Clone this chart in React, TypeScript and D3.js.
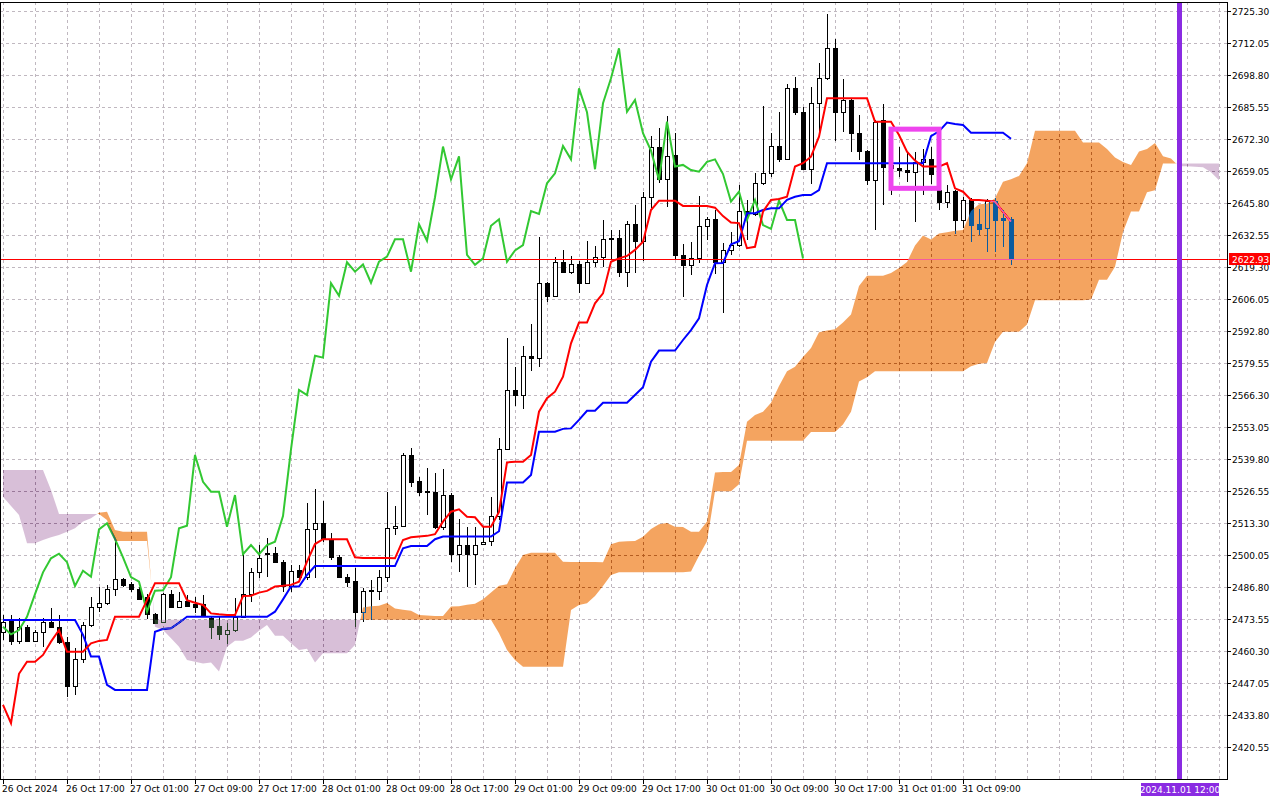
import * as d3 from 'd3'

// H1 bars, 8 px apart
const opens = [2468.3,2473.0,2464.7,2470.2,2464.7,2468.2,2472.3,2470.5,2464.3,2446.1,
2457.1,2471.2,2478.5,2480.2,2486.0,2490.1,2488.0,2486.0,2482.7,2475.6,
2472.6,2483.9,2478.8,2481.3,2479.9,2479.9,2473.9,2470.8,2467.3,2469.1,
2474.6,2483.9,2493.0,2501.1,2500.9,2497.2,2487.4,2494.0,2491.2,2510.8,
2513.3,2506.8,2499.2,2491.2,2489.4,2476.7,2485.4,2485.4,2491.0,2511.2,
2512.3,2541.6,2530.8,2526.6,2526.2,2511.9,2525.0,2500.5,2504.3,2500.5,
2504.6,2505.9,2516.3,2543.9,2568.5,2566.4,2582.7,2581.9,2612.7,2607.5,
2621.4,2617.5,2620.5,2612.9,2621.6,2623.7,2631.3,2631.3,2617.5,2637.1,
2630.3,2648.3,2669.3,2655.7,2665.8,2624.4,2620.3,2623.0,2636.5,2639.2,
2621.6,2626.3,2628.5,2642.6,2641.4,2654.1,2658.2,2669.5,2664.0,2693.4,
2683.5,2659.9,2687.2,2697.6,2710.0,2683.7,2688.6,2674.8,2667.6,2655.5,
2680.3,2660.4,2660.3,2659.5,2658.9,2663.0,2664.0,2651.3,2646.5,2650.9,
2638.9,2647.2,2637.2,2635.5,2646.9,2639.6,2639.2]

const highs = [2475.3,2475.3,2474.1,2471.2,2469.1,2474.1,2478.2,2475.3,2466.3,2461.5,
2472.6,2482.9,2487.1,2487.8,2506.4,2490.8,2489.1,2487.1,2484.0,2476.0,
2484.3,2485.7,2485.0,2483.6,2482.8,2483.6,2474.6,2474.6,2471.9,2482.2,
2500.6,2494.7,2504.3,2507.1,2503.4,2498.1,2496.0,2496.0,2521.8,2527.4,
2522.7,2509.2,2500.2,2492.3,2494.7,2486.4,2489.8,2494.0,2526.4,2520.5,
2542.5,2544.4,2532.6,2536.1,2534.0,2535.7,2525.7,2514.9,2511.9,2511.6,
2511.9,2524.3,2548.6,2589.9,2577.9,2586.7,2595.7,2631.7,2613.3,2623.7,
2626.5,2624.0,2621.9,2630.2,2628.1,2638.9,2634.7,2634.7,2638.5,2645.1,
2650.6,2673.5,2677.0,2682.0,2674.8,2629.0,2629.9,2648.8,2640.0,2643.0,
2629.2,2633.9,2653.4,2647.2,2658.2,2686.1,2674.8,2683.7,2695.2,2698.0,
2685.8,2693.8,2704.0,2724.2,2713.7,2697.1,2688.9,2682.4,2667.9,2680.3,
2686.9,2675.3,2669.1,2666.5,2667.2,2668.2,2669.2,2652.6,2653.4,2651.3,
2648.3,2648.1,2643.4,2647.6,2647.9,2643.0,2640.3]

const lows = [2465.0,2462.9,2463.3,2464.2,2464.3,2462.2,2469.9,2463.3,2441.5,2442.2,
2455.3,2470.5,2476.7,2479.5,2483.2,2487.1,2485.0,2481.5,2473.6,2471.9,
2471.9,2478.5,2478.1,2478.5,2476.2,2474.6,2465.3,2465.0,2463.2,2468.4,
2473.9,2480.8,2490.5,2491.2,2496.7,2485.0,2485.0,2489.8,2489.8,2490.5,
2505.7,2498.1,2490.5,2487.1,2470.5,2472.6,2473.3,2481.5,2489.1,2508.5,
2511.9,2528.5,2524.6,2516.7,2510.8,2510.5,2497.4,2493.3,2487.1,2487.8,
2504.3,2503.9,2514.7,2543.6,2561.9,2560.5,2576.5,2578.1,2605.1,2607.1,
2616.8,2616.5,2608.5,2612.4,2619.6,2619.6,2622.3,2615.4,2611.1,2617.1,
2622.0,2643.9,2654.1,2644.1,2622.6,2606.9,2616.1,2621.0,2630.6,2616.5,
2600.3,2624.4,2627.8,2630.6,2640.4,2653.4,2656.8,2663.0,2663.7,2682.4,
2659.6,2653.8,2673.4,2696.9,2671.7,2675.4,2667.2,2663.7,2653.4,2634.7,
2645.1,2649.2,2656.7,2654.8,2638.2,2649.2,2653.8,2643.0,2643.7,2633.1,
2635.5,2629.9,2632.7,2625.8,2625.8,2627.8,2620.3]

const closes = [2472.4,2464.7,2470.2,2464.7,2468.2,2472.3,2470.5,2464.0,2446.1,2457.1,
2471.2,2478.5,2480.2,2486.0,2490.1,2487.8,2486.0,2482.0,2475.6,2472.1,
2483.9,2478.8,2481.3,2479.2,2478.8,2474.9,2470.5,2467.3,2469.1,2474.6,
2484.0,2493.0,2498.8,2500.7,2497.2,2487.4,2493.7,2491.2,2510.8,2513.3,
2506.8,2499.2,2491.0,2489.1,2476.7,2485.4,2485.6,2491.0,2511.2,2512.3,
2541.6,2530.5,2526.4,2526.4,2511.9,2525.0,2500.5,2504.3,2500.5,2504.3,
2505.7,2516.3,2543.9,2568.5,2566.4,2582.7,2581.9,2612.7,2607.5,2621.4,
2617.5,2620.5,2612.9,2621.6,2623.7,2630.9,2630.9,2617.5,2637.1,2630.3,
2648.3,2669.3,2655.7,2665.2,2624.4,2620.3,2623.0,2636.5,2639.2,2621.6,
2626.3,2628.5,2642.6,2641.4,2654.1,2658.2,2669.5,2664.0,2693.4,2683.5,
2659.9,2687.2,2697.6,2710.0,2683.7,2688.6,2674.8,2667.6,2655.5,2679.6,
2661.0,2661.7,2659.6,2658.9,2663.0,2664.0,2657.9,2646.5,2650.6,2638.9,
2647.2,2636.8,2635.2,2646.9,2638.9,2638.9,2622.93]

// Tenkan-sen (red), one value per bar
const tenkan = [2438.1,2430.5,2451.0,2456.0,2456.0,2458.8,2464.3,2469.1,2460.1,2460.1,
2460.1,2463.6,2464.6,2465.0,2474.6,2474.6,2474.6,2474.6,2481.5,2488.5,
2488.5,2488.5,2488.5,2481.5,2480.4,2479.5,2476.0,2475.6,2475.3,2475.3,
2483.2,2483.3,2484.6,2485.3,2487.1,2487.4,2487.8,2489.1,2497.4,2504.7,
2506.7,2506.7,2506.7,2506.7,2499.2,2498.9,2498.9,2498.9,2498.9,2498.8,
2506.4,2507.5,2507.8,2508.1,2508.8,2514.0,2518.1,2519.1,2516.0,2515.8,
2511.9,2511.9,2518.0,2538.5,2538.8,2538.8,2541.6,2559.5,2565.1,2567.8,
2574.0,2587.8,2596.4,2596.4,2604.4,2608.5,2621.6,2623.0,2624.0,2626.5,
2629.9,2643.0,2646.9,2646.9,2646.9,2644.7,2644.7,2644.7,2644.7,2644.0,
2640.5,2637.8,2637.6,2627.2,2627.8,2642.3,2647.2,2647.6,2648.5,2661.0,
2662.4,2665.1,2673.4,2689.3,2689.3,2689.3,2689.3,2689.3,2689.3,2679.6,
2679.6,2679.6,2674.1,2667.2,2663.5,2661.0,2661.0,2661.0,2662.4,2652.0,
2650.6,2647.2,2647.2,2646.9,2646.5,2642.3,2638.2]

// Kijun-sen (blue), one value per bar
const kijun = [2473.3,2473.3,2473.3,2473.3,2473.3,2473.3,2473.3,2473.3,2473.3,2473.3,
2467.1,2458.1,2458.1,2446.4,2444.3,2444.3,2444.3,2444.3,2444.3,2468.4,
2469.5,2469.8,2472.1,2474.6,2474.6,2474.6,2474.6,2474.6,2474.6,2474.6,
2474.6,2474.6,2474.6,2474.6,2476.7,2481.8,2487.1,2487.1,2491.9,2495.6,
2495.6,2495.6,2495.6,2495.6,2495.6,2495.6,2495.6,2495.6,2495.6,2495.6,
2502.9,2503.9,2503.9,2503.9,2506.7,2507.8,2507.8,2507.8,2507.8,2507.8,
2507.8,2507.8,2510.0,2530.2,2530.2,2530.2,2533.3,2551.2,2551.2,2551.2,
2552.4,2552.6,2556.1,2559.9,2559.9,2563.2,2563.2,2563.2,2563.2,2566.4,
2569.6,2580.2,2584.8,2584.8,2584.8,2589.2,2593.3,2598.2,2612.0,2621.0,
2621.1,2628.8,2630.1,2641.7,2641.7,2643.0,2643.7,2643.7,2647.2,2648.5,
2649.2,2649.2,2651.3,2662.4,2662.4,2662.4,2662.4,2662.4,2662.4,2662.4,
2662.4,2662.4,2662.4,2662.4,2662.4,2662.4,2673.6,2675.6,2679.2,2678.6,
2678.2,2675.0,2675.0,2675.0,2675.0,2675.0,2672.5]

// Senkou span A for the first 26 bars (its source lies left of the chart)
const spanAEarly = [2524.3,2520.5,2516.7,2505.0,2505.0,2506.4,2507.5,2508.5,2509.8,2511.2,
2514.0,2515.4,2517.7,2518.1,2510.5,2509.8,2509.8,2509.8,2509.8,2470.5,
2469.1,2465.7,2462.2,2456.7,2456.0,2455.3]

// Senkou span B as flat runs: value holds from bar spanBFrom[k] up to the next run
const spanBFrom = [0,6,7,13,14,19,62,63,64,65,71,72,73,74,75,76,77,86,87,88,89,92,93,101,105,
106,107,108,109,121,122,123,124,125,128,129,136,137,139,140,141,143,144,145]
const spanBValue = [2535.4,2527.1,2517.2,2514.7,2506.0,2473.4,2467.8,2460.8,2456.7,2453.9,
2477.4,2479.5,2480.2,2483.2,2487.3,2491.9,2493.0,2493.3,2499.9,2505.9,2526.6,2529.5,2547.5,
2551.1,2554.2,2559.5,2572.0,2573.8,2576.3,2578.3,2579.4,2579.7,2588.4,2592.6,2595.6,2605.7,
2606.0,2614.1,2619.5,2633.9,2642.4,2650.4,2651.2,2662.3]

const priceTicks = ['2725.30','2712.05','2698.80','2685.55','2672.30','2659.05','2645.80',
'2632.55','2619.30','2606.05','2592.80','2579.55','2566.30','2553.05','2539.80','2526.55',
'2513.30','2500.05','2486.80','2473.55','2460.30','2447.05','2433.80','2420.55']

const timeLabels = ['26 Oct 2024','26 Oct 17:00','27 Oct 01:00','27 Oct 09:00','27 Oct 17:00',
'28 Oct 01:00','28 Oct 09:00','28 Oct 17:00','29 Oct 01:00','29 Oct 09:00','29 Oct 17:00',
'30 Oct 01:00','30 Oct 09:00','30 Oct 17:00','31 Oct 01:00','31 Oct 09:00']

const lastPrice = 2622.93
const markerBar = 147
const markerLabel = '2024.11.01 12:00'
const boxBars = [111, 117]
const boxPrices = [2676.5, 2652.0]

const SHIFT = 26
const RIGHT = 1227
const BOTTOM = 779
const TOP = 2

type Pt = [number, number, number]

function cloudRuns(a: number[], b: number[]) {
  const runs: { up: boolean; pts: Pt[] }[] = []
  let cur: { up: boolean; pts: Pt[] } | null = null
  for (let k = 0; k < a.length; k++) {
    const up = a[k] >= b[k]
    if (!cur) {
      cur = { up, pts: [] }
      runs.push(cur)
    } else if (up !== cur.up) {
      const d0 = a[k - 1] - b[k - 1]
      const d1 = a[k] - b[k]
      const t = d0 / (d0 - d1)
      const v = a[k - 1] + t * (a[k] - a[k - 1])
      cur.pts.push([k - 1 + t, v, v])
      cur = { up, pts: [[k - 1 + t, v, v]] }
      runs.push(cur)
    }
    cur.pts.push([k, a[k], b[k]])
  }
  return runs
}

export default function App() {
  const x = d3.scaleLinear([0, 1], [3, 11])
  const y = d3.scaleLinear([2420.55, 2725.3], [747.3, 11.3])

  const spanA = [...spanAEarly, ...tenkan.map((t, i) => (t + kijun[i]) / 2)]
  const spanB = spanA.map((_, bar) => {
    let k = 0
    while (k + 1 < spanBFrom.length && spanBFrom[k + 1] <= bar) k++
    return spanBValue[k]
  })
  const chikou = closes.slice(SHIFT)

  const line = d3
    .line<number>()
    .x((_, i) => x(i))
    .y((d) => y(d))
  const area = d3
    .area<Pt>()
    .x((p) => x(p[0]))
    .y0((p) => y(p[2]))
    .y1((p) => y(p[1]))

  const runs = cloudRuns(spanA, spanB)
  const gridBars = d3.range(0, spanA.length, 4)
  const yLast = Math.round(y(lastPrice)) + 0.5

  return (
    <svg
      width={1280}
      height={800}
      style={{ position: 'absolute', left: 0, top: 0 }}
      fontFamily="DejaVu Sans"
      fontSize={9}
    >
      <defs>
        <clipPath id="plot">
          <rect x={0} y={TOP} width={RIGHT} height={BOTTOM - TOP} />
        </clipPath>
      </defs>
      <rect width={1280} height={800} fill="#fff" />

      <g clipPath="url(#plot)">
        {/* backdrop inside the clipped group so the kumo blend sees white */}
        <rect width={1280} height={800} fill="#fff" />
        <g stroke="#c0b8c0" strokeDasharray="3,3" shapeRendering="crispEdges">
          {priceTicks.map((p) => (
            <line key={p} x1={0} x2={RIGHT} y1={Math.round(y(+p)) + 0.5} y2={Math.round(y(+p)) + 0.5} />
          ))}
          {gridBars.map((b) => (
            <line key={b} x1={x(b) + 0.5} x2={x(b) + 0.5} y1={TOP} y2={BOTTOM} />
          ))}
        </g>

        <g shapeRendering="crispEdges">
          {opens.map((o, i) => {
            const c = closes[i]
            const cx = Math.round(x(i))
            const top = Math.round(y(Math.max(o, c))) + 0.5
            const bot = Math.round(y(Math.min(o, c))) + 0.5
            return (
              <g key={i}>
                <line x1={cx + 0.5} x2={cx + 0.5} y1={y(highs[i])} y2={y(lows[i])} stroke="#000" />
                <rect
                  x={cx - 1.5}
                  y={top}
                  width={4}
                  height={Math.max(bot - top, 1)}
                  fill={c >= o ? '#fff' : '#000'}
                  stroke="#000"
                />
              </g>
            )
          })}
        </g>

        <line x1={0} x2={RIGHT} y1={yLast} y2={yLast} stroke="#ff0000" shapeRendering="crispEdges" />
        <path d={line(chikou) || undefined} fill="none" stroke="#32c832" strokeWidth={2} />
        <path d={line(kijun) || undefined} fill="none" stroke="#0000ff" strokeWidth={2} />
        <path d={line(tenkan) || undefined} fill="none" stroke="#ff0000" strokeWidth={2} />

        {/* kumo drawn inverted, like the terminal's XOR histogram */}
        {runs.map((r, k) => (
          <path
            key={k}
            d={area(r.pts) || undefined}
            fill={r.up ? '#0b5b9f' : '#274027'}
            style={{ mixBlendMode: 'difference' }}
          />
        ))}

        <rect
          x={x(boxBars[0])}
          y={y(boxPrices[0])}
          width={x(boxBars[1]) - x(boxBars[0])}
          height={y(boxPrices[1]) - y(boxPrices[0])}
          fill="none"
          stroke="#ee44ee"
          strokeWidth={5}
        />
        <line
          x1={x(markerBar) + 0.5}
          x2={x(markerBar) + 0.5}
          y1={TOP}
          y2={BOTTOM}
          stroke="#8a2be2"
          strokeWidth={5}
        />
      </g>

      <g stroke="#000" shapeRendering="crispEdges">
        <line x1={0.5} x2={0.5} y1={TOP} y2={BOTTOM} />
        <line x1={0} x2={RIGHT + 1} y1={TOP + 0.5} y2={TOP + 0.5} />
        <line x1={RIGHT + 0.5} x2={RIGHT + 0.5} y1={TOP} y2={BOTTOM + 1} />
        <line x1={0} x2={RIGHT + 1} y1={BOTTOM + 0.5} y2={BOTTOM + 0.5} />
        {priceTicks.map((p) => (
          <line key={p} x1={RIGHT} x2={RIGHT + 4} y1={Math.round(y(+p)) + 0.5} y2={Math.round(y(+p)) + 0.5} />
        ))}
        {timeLabels.map((t, k) => (
          <line key={t} x1={x(k * 8) + 0.5} x2={x(k * 8) + 0.5} y1={BOTTOM} y2={BOTTOM + 5} />
        ))}
      </g>

      {priceTicks.map((p) => (
        <text key={p} x={RIGHT + 5} y={y(+p) + 3.5} fill="#000">
          {p}
        </text>
      ))}
      <rect x={RIGHT + 2} y={yLast - 6.5} width={41} height={12} fill="#ff0000" />
      <text x={RIGHT + 5} y={yLast + 3.5} fill="#fff">
        {lastPrice.toFixed(2)}
      </text>

      {timeLabels.map((t, k) => (
        <text key={t} x={x(k * 8) - 1} y={BOTTOM + 13} fill="#000">
          {t}
        </text>
      ))}
      <rect x={x(markerBar) - 38} y={BOTTOM + 4} width={78} height={13} fill="#8a2be2" />
      <text x={x(markerBar) + 1} y={BOTTOM + 14} fill="#fff" textAnchor="middle">
        {markerLabel}
      </text>
    </svg>
  )
}
